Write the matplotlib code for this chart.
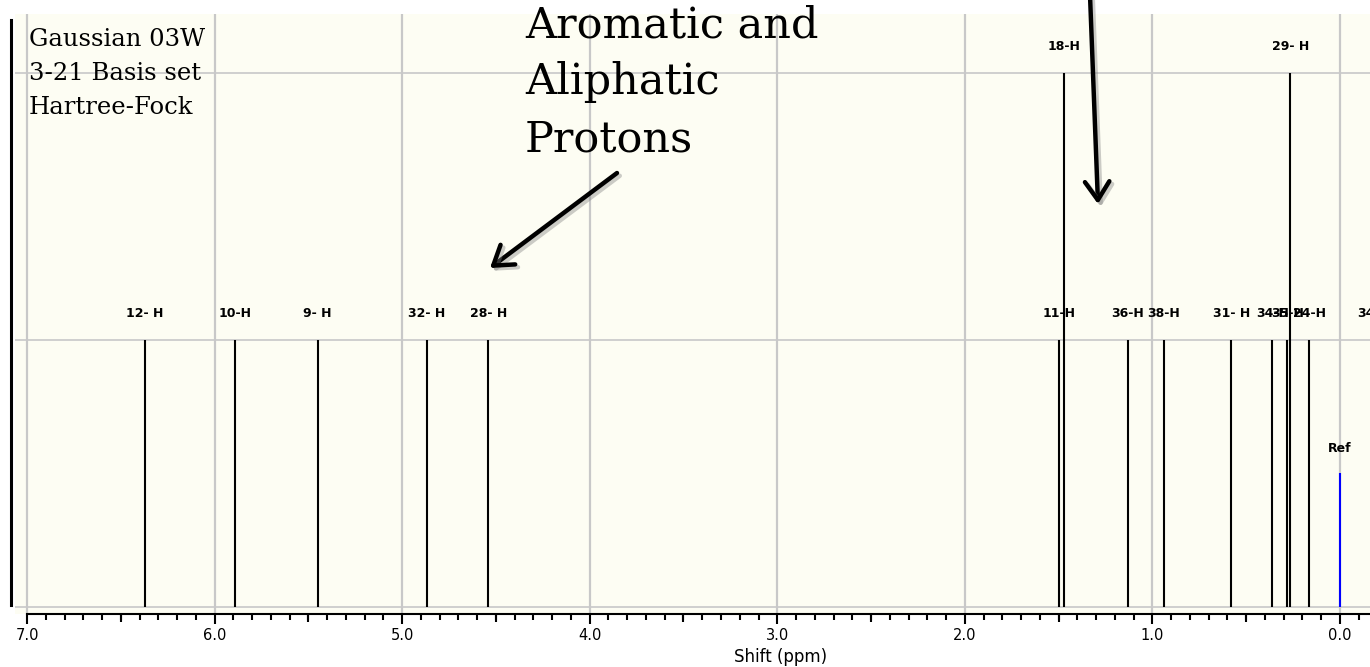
import matplotlib
matplotlib.use("Agg")
import matplotlib.pyplot as plt
import matplotlib.patheffects as pe
from matplotlib.lines import Line2D
from matplotlib.ticker import MultipleLocator, FixedLocator

# predicted 1H shifts (ppm), relative intensities
peak_labels = ["12- H", "10-H", "9- H", "32- H", "28- H",
               "11-H", "18-H", "36-H", "38-H", "31- H",
               "34-H", "35-H", "29- H", "24-H", "34-H"]
peak_shifts = [6.37, 5.89, 5.45, 4.87, 4.54,
               1.50, 1.47, 1.13, 0.94, 0.58,
               0.36, 0.28, 0.265, 0.165, -0.18]
peak_heights = [1, 1, 1, 1, 1,
                1, 2, 1, 1, 1,
                1, 1, 2, 1, 1]
ref_label = "Ref"
ref_shift = 0.0
ref_height = 0.5

x_ticks = [7, 6, 5, 4, 3, 2, 1, 0]
x_ticklabels = ["7.0", "6.0", "5.0", "4.0", "3.0", "2.0", "1.0", "0.0"]

W, H = 1370, 667
fig = plt.figure(figsize=(W / 100, H / 100), dpi=100)
ax = fig.add_axes([15 / W, (H - 614) / H, 1355 / W, 600 / H])
ax.set_facecolor("#fdfdf3")

ax.set_xlim(7.064, -0.16)
ax.set_ylim(-0.026, 2.22)

# grid
for g in x_ticks:
    ax.axvline(g, color="#c8c8c8", lw=1.6, zorder=0)
for g in [0, 1, 2]:
    ax.axhline(g, color="#c8c8c8", lw=1.2, zorder=0)

# peaks
ax.vlines(peak_shifts, 0, peak_heights, colors="black", lw=1.5, zorder=3)
ax.vlines([ref_shift], 0, [ref_height], colors="#0000ff", lw=1.5, zorder=3)

lab_font = dict(family="DejaVu Sans", size=9, weight="bold")
for lab, x, h in zip(peak_labels, peak_shifts, peak_heights):
    ax.annotate(lab, (x, h), xytext=(0, 19), textcoords="offset points",
                ha="center", va="center", annotation_clip=False, **lab_font)
ax.annotate(ref_label, (ref_shift, ref_height), xytext=(0, 18),
            textcoords="offset points", ha="center", va="center", **lab_font)

# axes styling
for s in ["top", "right", "left"]:
    ax.spines[s].set_visible(False)
ax.spines["bottom"].set_linewidth(1.5)
ax.spines["bottom"].set_bounds(7.0, -0.16)
ax.set_yticks([])
ax.xaxis.set_major_locator(FixedLocator(x_ticks))
ax.set_xticklabels(x_ticklabels, family="DejaVu Sans", size=10.5)
ax.xaxis.set_minor_locator(MultipleLocator(0.1))
ax.tick_params(axis="x", which="major", direction="out", length=7.2, width=1.5, pad=3)
ax.tick_params(axis="x", which="minor", direction="out", length=4.3, width=1.5)

sec = ax.secondary_xaxis("bottom")
sec.spines["bottom"].set_visible(False)
sec.xaxis.set_major_locator(FixedLocator([6.5, 5.5, 4.5, 3.5, 2.5, 1.5, 0.5]))
sec.tick_params(axis="x", direction="out", length=5.8, width=1.5, labelbottom=False)

ax.set_xlabel("Shift (ppm)", family="DejaVu Sans", size=12)
ax.xaxis.set_label_coords((781 - 15) / 1355, (614 - 657) / 600)
ax.xaxis.label.set_va("center")

# left black bar
fig.add_artist(Line2D([11 / W, 11 / W], [(H - 605) / H, (H - 20) / H],
                      color="black", lw=2.2, transform=fig.transFigure))

# method note
fig.text(29 / W, (H - 28) / H, "Gaussian 03W\n3-21 Basis set\nHartree-Fock",
         family="DejaVu Serif", size=17.5, va="top", ha="left", linespacing=1.62)

# annotation text and arrows
fig.text(525 / W, (H - 4) / H, "Aromatic and\nAliphatic\nProtons",
         family="DejaVu Serif", size=31, va="top", ha="left", linespacing=1.46)

shadow = [pe.SimpleLineShadow(offset=(2, -2), shadow_color="gray", alpha=0.4),
          pe.Normal()]
arrow_kw = dict(arrowstyle="->, head_width=0.4, head_length=0.6",
                color="black", lw=3.2, mutation_scale=22, shrinkA=0, shrinkB=0)
a1 = ax.annotate("", xy=(490, H - 268), xycoords="figure pixels",
                 xytext=(617, H - 173), textcoords="figure pixels",
                 arrowprops=arrow_kw)
a1.arrow_patch.set_path_effects(shadow)
a2 = ax.annotate("", xy=(1098, H - 204), xycoords="figure pixels",
                 xytext=(1090, H + 5), textcoords="figure pixels",
                 arrowprops=arrow_kw, annotation_clip=False)
a2.arrow_patch.set_path_effects(shadow)

fig.savefig("out.png", dpi=100)
